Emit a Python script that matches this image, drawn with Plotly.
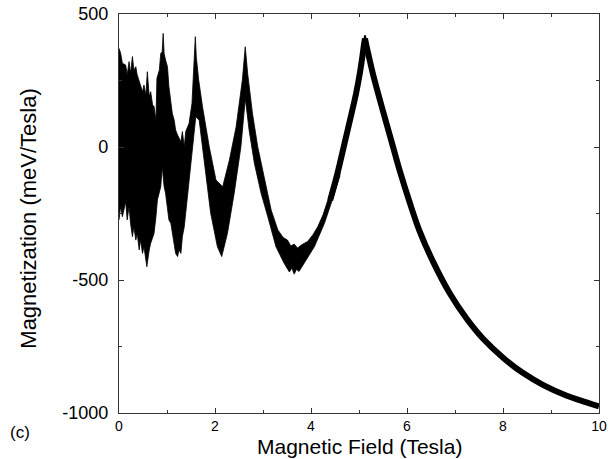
import plotly.graph_objects as go

# ---- data (Magnetic field in Tesla, magnetization in meV/Tesla) ----
# Upper envelope of the rapidly oscillating (noisy) part
upper_B = [0.00, 0.035, 0.07, 0.14, 0.17, 0.21, 0.24, 0.28, 0.31, 0.35, 0.38, 0.42, 0.45, 0.49,
           0.52, 0.56, 0.59, 0.63, 0.66, 0.70, 0.73, 0.77, 0.79, 0.84, 0.87, 0.90, 0.92, 0.94,
           0.97, 1.01, 1.04, 1.08, 1.11, 1.15, 1.18, 1.22, 1.25, 1.29, 1.32, 1.36, 1.39, 1.46,
           1.52, 1.56, 1.59, 1.61, 1.66, 1.74, 1.88, 2.02, 2.16, 2.30, 2.44, 2.57, 2.63, 2.68,
           2.78, 2.89, 3.03, 3.17, 3.31, 3.42, 3.51, 3.58, 3.65, 3.72, 3.80, 3.93, 4.04, 4.14,
           4.25, 4.35, 4.49, 4.60]
upper_M = [371, 352, 315, 308, 271, 321, 277, 340, 289, 302, 271, 246, 227, 208,
           233, 195, 283, 189, 208, 158, 152, 101, 258, 289, 352, 358, 427, 352,
           327, 302, 227, 177, 127, 101, 64, 45, 33, 20, 58, 1, 58, 89,
           164, 315, 415, 340, 252, 151, 1, -124, -149, -49, 76, 252, 377, 277,
           127, 1, -112, -237, -312, -340, -350, -372, -365, -380, -368, -355, -330, -300,
           -255, -199, -124, -45]

# Lower envelope of the noisy part
lower_B = [0.00, 0.035, 0.07, 0.10, 0.14, 0.17, 0.21, 0.24, 0.28, 0.31, 0.35, 0.38, 0.42, 0.45,
           0.49, 0.52, 0.58, 0.63, 0.66, 0.73, 0.77, 0.80, 0.84, 0.87, 0.90, 0.94, 0.97, 1.01,
           1.04, 1.08, 1.11, 1.15, 1.18, 1.22, 1.25, 1.29, 1.32, 1.36, 1.46, 1.57, 1.60, 1.67,
           1.77, 1.91, 2.05, 2.14, 2.26, 2.40, 2.54, 2.59, 2.63, 2.66, 2.71, 2.82, 2.96, 3.10,
           3.27, 3.44, 3.55, 3.60, 3.65, 3.70, 3.75, 3.86, 4.07, 4.28, 4.49, 4.60]
lower_M = [-274, -224, -262, -237, -206, -274, -224, -287, -337, -300, -350, -325, -387, -350,
           -400, -375, -450, -387, -362, -325, -262, -199, -174, -149, -74, -149, -174, -224,
           -274, -287, -325, -362, -400, -412, -387, -400, -337, -300, -124, 64, 114, 101,
           -49, -249, -375, -412, -324, -174, 1, 100, 180, 140, 64, -61, -174, -262,
           -375, -437, -470, -455, -478, -460, -468, -437, -375, -287, -174, -110]

# Centre of the smooth (thin) part of the curve: rising branch and falling branch
rise_B = [4.40, 4.55, 4.72, 4.85, 4.94, 5.02, 5.06, 5.10, 5.125]
rise_M = [-200, -100, 30, 130, 202, 280, 327, 380, 408]
fall_B = [5.125, 5.15, 5.20, 5.30, 5.50, 5.67, 5.85, 6.05, 6.26, 6.54, 6.89,
          7.24, 7.58, 8.02, 8.42, 8.84, 9.33, 9.74, 10.00]
fall_M = [408, 385, 345, 268, 135, 26, -90, -205, -315, -430, -550,
          -645, -720, -795, -850, -895, -935, -960, -975]

x_tick_vals = [0, 2, 4, 6, 8, 10]
x_tick_text = ["0", "2", "4", "6", "8", "10"]
y_tick_vals = [-1000, -500, 0, 500]
y_tick_text = ["-1000", "-500", "0", "500"]

FONT = "Liberation Sans, Arial, Helvetica, sans-serif"
AX = "#333333"

poly_x = upper_B + lower_B[::-1]
poly_y = upper_M + lower_M[::-1]

fig = go.Figure()
fig.add_trace(go.Scatter(x=poly_x, y=poly_y, mode="lines", fill="toself",
                         fillcolor="black", line=dict(color="black", width=0.8),
                         hoverinfo="skip", showlegend=False))
for bx, my in ((rise_B, rise_M), (fall_B, fall_M)):
    fig.add_trace(go.Scatter(x=bx, y=my, mode="lines",
                             line=dict(color="black", width=6, shape="spline", smoothing=1.0),
                             hoverinfo="skip", showlegend=False))
# sharp tip of the main peak
fig.add_trace(go.Scatter(x=[rise_B[-3], rise_B[-1], fall_B[1], rise_B[-3]],
                         y=[rise_M[-3], rise_M[-1] + 12, fall_M[1], rise_M[-3]],
                         mode="lines", fill="toself", fillcolor="black",
                         line=dict(color="black", width=2),
                         hoverinfo="skip", showlegend=False))

axis_common = dict(showline=True, linecolor=AX, linewidth=1.2, mirror="ticks",
                   ticks="inside", ticklen=5, tickwidth=1, tickcolor=AX,
                   showgrid=False, zeroline=False, automargin=False)

fig.update_xaxes(range=[0, 10], tickvals=x_tick_vals, ticktext=x_tick_text,
                 minor=dict(tickvals=[1, 3, 5, 7, 9], ticks="inside", ticklen=3, tickcolor=AX),
                 tickfont=dict(family=FONT, size=14, color="black"),
                 ticklabelstandoff=0, **axis_common)
fig.update_yaxes(range=[-1000, 500], tickvals=y_tick_vals, ticktext=y_tick_text,
                 minor=dict(tickvals=[-750, -250, 250], ticks="inside", ticklen=3, tickcolor=AX),
                 tickfont=dict(family=FONT, size=18, color="black"),
                 ticklabelstandoff=6, **axis_common)

fig.update_layout(
    width=616, height=459,
    margin=dict(l=119, r=17, t=14, b=46, autoexpand=False),
    paper_bgcolor="white", plot_bgcolor="white",
    showlegend=False,
    annotations=[
        dict(text="Magnetic Field (Tesla)", xref="paper", yref="paper",
             x=0.5, y=-0.083, xanchor="center", yanchor="middle", showarrow=False,
             font=dict(family=FONT, size=21, color="black")),
        dict(text="Magnetization (meV/Tesla)", xref="paper", yref="paper",
             x=-0.1875, y=0.487, xanchor="center", yanchor="middle", showarrow=False,
             textangle=-90, font=dict(family=FONT, size=22, color="black")),
        dict(text="(c)", xref="paper", yref="paper",
             x=-0.206, y=-0.048, xanchor="center", yanchor="middle", showarrow=False,
             font=dict(family=FONT, size=17, color="black")),
    ],
)

fig.write_html("out.html")
